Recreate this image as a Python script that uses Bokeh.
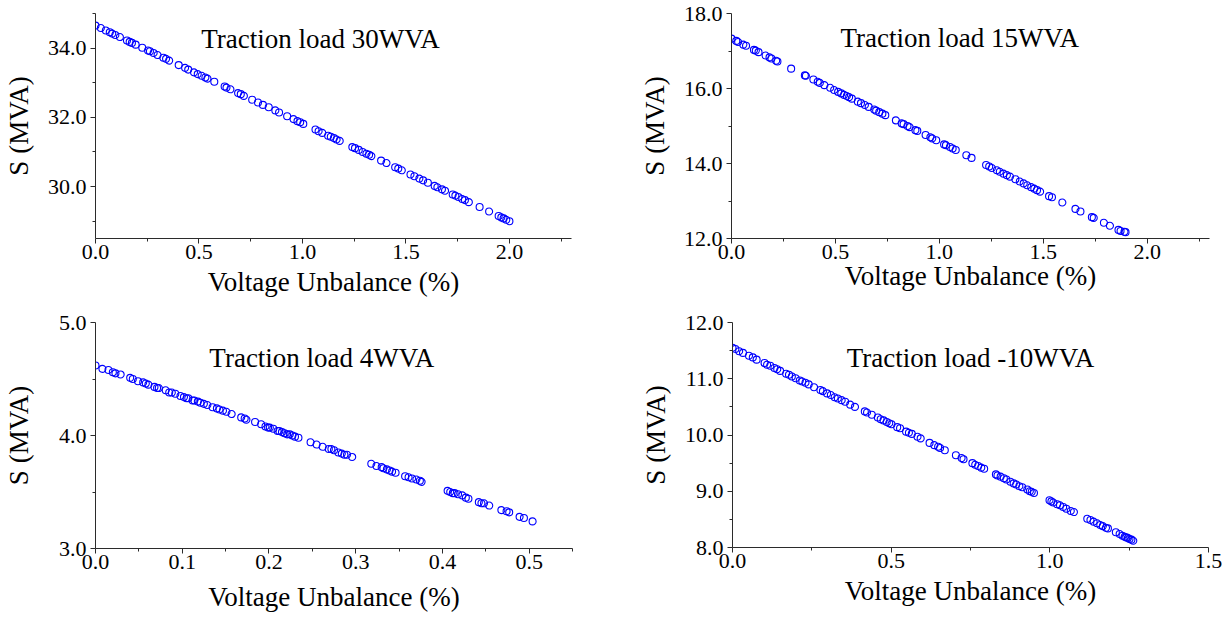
from bokeh.plotting import figure
from bokeh.layouts import column, row
from bokeh.models import Range1d, FixedTicker, PrintfTickFormatter, Label
from bokeh.embed import file_html
from bokeh.resources import INLINE

FONT = "Liberation Serif"

# ---------------- data ----------------
titles = ["Traction load 30WVA", "Traction load 15WVA", "Traction load 4WVA", "Traction load -10WVA"]
x_label = "Voltage Unbalance (%)"
y_label = "S (MVA)"

vu_30 = [0.000, 0.026, 0.050, 0.069, 0.081, 0.096, 0.118, 0.152, 0.165, 0.176, 0.194, 0.226, 0.254, 0.263,
         0.281, 0.300, 0.328, 0.341, 0.356, 0.402, 0.433, 0.448, 0.476, 0.494, 0.513, 0.531, 0.541, 0.574,
         0.624, 0.633, 0.652, 0.689, 0.702, 0.717, 0.757, 0.785, 0.809, 0.837, 0.869, 0.887, 0.926, 0.957,
         0.976, 0.989, 1.004, 1.063, 1.078, 1.096, 1.124, 1.137, 1.152, 1.165, 1.180, 1.241, 1.254, 1.272,
         1.291, 1.309, 1.322, 1.333, 1.380, 1.406, 1.448, 1.463, 1.480, 1.522, 1.541, 1.565, 1.583, 1.606,
         1.639, 1.652, 1.674, 1.689, 1.726, 1.739, 1.754, 1.772, 1.785, 1.804, 1.856, 1.902, 1.948, 1.961,
         1.972, 1.985, 2.000]
s_30 = [34.65, 34.58, 34.51, 34.46, 34.42, 34.38, 34.32, 34.22, 34.18, 34.15, 34.10, 34.01, 33.93, 33.91,
        33.86, 33.80, 33.72, 33.69, 33.64, 33.51, 33.43, 33.38, 33.30, 33.25, 33.20, 33.15, 33.12, 33.03,
        32.89, 32.86, 32.81, 32.70, 32.67, 32.62, 32.51, 32.43, 32.36, 32.29, 32.20, 32.14, 32.03, 31.95,
        31.89, 31.86, 31.81, 31.65, 31.60, 31.55, 31.47, 31.44, 31.40, 31.36, 31.32, 31.14, 31.11, 31.06,
        31.00, 30.95, 30.92, 30.88, 30.75, 30.68, 30.56, 30.52, 30.47, 30.35, 30.30, 30.23, 30.18, 30.11,
        30.02, 29.98, 29.92, 29.88, 29.77, 29.74, 29.70, 29.64, 29.61, 29.55, 29.41, 29.28, 29.15, 29.11,
        29.08, 29.04, 29.00]

vu_15 = [0.000, 0.023, 0.032, 0.057, 0.070, 0.108, 0.117, 0.130, 0.164, 0.183, 0.192, 0.215, 0.221, 0.287,
         0.353, 0.358, 0.394, 0.415, 0.425, 0.447, 0.475, 0.494, 0.513, 0.528, 0.542, 0.555, 0.566, 0.579,
         0.608, 0.623, 0.642, 0.660, 0.687, 0.696, 0.711, 0.726, 0.740, 0.791, 0.819, 0.828, 0.847, 0.857,
         0.885, 0.894, 0.934, 0.957, 0.966, 0.985, 1.023, 1.032, 1.051, 1.064, 1.079, 1.130, 1.155, 1.225,
         1.240, 1.253, 1.277, 1.291, 1.309, 1.325, 1.340, 1.366, 1.387, 1.406, 1.423, 1.442, 1.457, 1.470,
         1.485, 1.528, 1.542, 1.592, 1.655, 1.679, 1.734, 1.743, 1.792, 1.821, 1.862, 1.872, 1.891, 1.896]
s_15 = [17.33, 17.27, 17.24, 17.17, 17.14, 17.03, 17.01, 16.97, 16.88, 16.83, 16.80, 16.74, 16.72, 16.53,
        16.35, 16.34, 16.24, 16.18, 16.15, 16.09, 16.02, 15.96, 15.91, 15.87, 15.83, 15.80, 15.77, 15.73,
        15.65, 15.61, 15.56, 15.51, 15.44, 15.41, 15.37, 15.33, 15.29, 15.15, 15.07, 15.05, 15.00, 14.97,
        14.89, 14.87, 14.76, 14.70, 14.67, 14.62, 14.51, 14.49, 14.44, 14.40, 14.36, 14.22, 14.15, 13.96,
        13.92, 13.88, 13.82, 13.78, 13.73, 13.69, 13.65, 13.58, 13.52, 13.47, 13.42, 13.37, 13.33, 13.29,
        13.25, 13.13, 13.10, 12.96, 12.79, 12.72, 12.57, 12.55, 12.42, 12.34, 12.23, 12.20, 12.18, 12.17]

vu_4 = [0.000, 0.008, 0.015, 0.020, 0.023, 0.029, 0.040, 0.043, 0.049, 0.055, 0.058, 0.061, 0.068, 0.071,
        0.073, 0.081, 0.085, 0.088, 0.092, 0.098, 0.102, 0.105, 0.107, 0.112, 0.114, 0.118, 0.121, 0.125,
        0.129, 0.135, 0.140, 0.143, 0.147, 0.151, 0.157, 0.168, 0.172, 0.174, 0.184, 0.191, 0.196, 0.199,
        0.201, 0.205, 0.210, 0.212, 0.215, 0.218, 0.221, 0.224, 0.227, 0.230, 0.234, 0.248, 0.255, 0.262,
        0.269, 0.272, 0.275, 0.280, 0.284, 0.287, 0.290, 0.296, 0.318, 0.324, 0.330, 0.332, 0.336, 0.339,
        0.342, 0.346, 0.357, 0.361, 0.365, 0.370, 0.374, 0.376, 0.406, 0.409, 0.412, 0.414, 0.418, 0.423,
        0.427, 0.430, 0.442, 0.445, 0.448, 0.454, 0.468, 0.474, 0.477, 0.489, 0.494, 0.504]
s_4 = [4.62, 4.59, 4.58, 4.56, 4.55, 4.54, 4.51, 4.50, 4.48, 4.47, 4.46, 4.45, 4.43, 4.42,
       4.42, 4.40, 4.38, 4.38, 4.37, 4.35, 4.34, 4.33, 4.33, 4.31, 4.31, 4.30, 4.29, 4.28,
       4.27, 4.25, 4.24, 4.23, 4.22, 4.21, 4.19, 4.16, 4.15, 4.14, 4.12, 4.10, 4.08, 4.07,
       4.07, 4.06, 4.04, 4.04, 4.03, 4.02, 4.01, 4.01, 4.00, 3.99, 3.98, 3.94, 3.92, 3.90,
       3.88, 3.88, 3.87, 3.85, 3.84, 3.83, 3.83, 3.81, 3.75, 3.73, 3.72, 3.71, 3.70, 3.69,
       3.68, 3.67, 3.64, 3.63, 3.62, 3.61, 3.60, 3.59, 3.51, 3.50, 3.49, 3.49, 3.48, 3.47,
       3.45, 3.44, 3.41, 3.40, 3.40, 3.38, 3.34, 3.33, 3.32, 3.28, 3.27, 3.24]

vu_m10 = [0.000, 0.009, 0.021, 0.033, 0.052, 0.064, 0.076, 0.101, 0.109, 0.119, 0.132, 0.141, 0.150, 0.169,
          0.178, 0.187, 0.199, 0.212, 0.220, 0.230, 0.240, 0.257, 0.277, 0.285, 0.298, 0.310, 0.322, 0.332,
          0.344, 0.355, 0.371, 0.386, 0.417, 0.424, 0.439, 0.458, 0.467, 0.476, 0.486, 0.494, 0.501, 0.519,
          0.528, 0.547, 0.556, 0.565, 0.583, 0.593, 0.621, 0.636, 0.648, 0.654, 0.669, 0.704, 0.722, 0.728,
          0.756, 0.765, 0.774, 0.784, 0.793, 0.830, 0.835, 0.845, 0.855, 0.863, 0.876, 0.886, 0.894, 0.904,
          0.913, 0.929, 0.937, 0.943, 0.950, 0.999, 1.005, 1.011, 1.023, 1.032, 1.042, 1.052, 1.066, 1.076,
          1.118, 1.128, 1.138, 1.149, 1.159, 1.167, 1.177, 1.183, 1.208, 1.220, 1.229, 1.236, 1.241, 1.246,
          1.251, 1.257, 1.263]
s_m10 = [11.55, 11.53, 11.49, 11.46, 11.41, 11.38, 11.34, 11.28, 11.25, 11.23, 11.19, 11.17, 11.14, 11.09,
         11.07, 11.04, 11.01, 10.97, 10.95, 10.93, 10.90, 10.85, 10.80, 10.78, 10.74, 10.71, 10.67, 10.65,
         10.62, 10.59, 10.54, 10.50, 10.42, 10.40, 10.36, 10.31, 10.28, 10.26, 10.23, 10.21, 10.19, 10.14,
         10.12, 10.06, 10.04, 10.02, 9.97, 9.94, 9.86, 9.82, 9.79, 9.77, 9.73, 9.64, 9.59, 9.57,
         9.50, 9.47, 9.45, 9.42, 9.40, 9.30, 9.28, 9.26, 9.23, 9.21, 9.17, 9.14, 9.12, 9.09,
         9.07, 9.03, 9.00, 8.99, 8.97, 8.84, 8.82, 8.80, 8.77, 8.75, 8.72, 8.69, 8.65, 8.63,
         8.51, 8.49, 8.46, 8.43, 8.40, 8.38, 8.35, 8.34, 8.27, 8.24, 8.21, 8.19, 8.18, 8.17,
         8.15, 8.14, 8.12]

# ticks
xt_a = [0.0, 0.5, 1.0, 1.5, 2.0]
xm_a = [0.25, 0.75, 1.25, 1.75, 2.25]
yt_30 = [30.0, 32.0, 34.0]
ym_30 = [29.0, 31.0, 33.0, 35.0]
yt_15 = [12.0, 14.0, 16.0, 18.0]
ym_15 = [13.0, 15.0, 17.0]
xt_4 = [0.0, 0.1, 0.2, 0.3, 0.4, 0.5]
xm_4 = [0.05, 0.15, 0.25, 0.35, 0.45, 0.55]
yt_4 = [3.0, 4.0, 5.0]
ym_4 = [3.5, 4.5]
xt_m10 = [0.0, 0.5, 1.0, 1.5]
xm_m10 = [0.25, 0.75, 1.25]
yt_m10 = [8.0, 9.0, 10.0, 11.0, 12.0]
ym_m10 = [8.5, 9.5, 10.5, 11.5]

AXIS_COLOR = "#2b2b2b"


def panel(x, y, title, xr, yr, xt, xm, yt, ym, tpos, fw, fh, borders, xstand, ystand):
    left, right, top, bottom = borders
    p = figure(frame_width=fw, frame_height=fh,
               x_range=Range1d(*xr), y_range=Range1d(*yr),
               output_backend="svg", toolbar_location=None,
               min_border_left=left, min_border_right=right,
               min_border_top=top, min_border_bottom=bottom)
    p.xgrid.visible = False
    p.ygrid.visible = False
    p.outline_line_color = None
    p.background_fill_color = "white"
    p.border_fill_color = "white"

    p.xaxis.ticker = FixedTicker(ticks=xt, minor_ticks=xm)
    p.yaxis.ticker = FixedTicker(ticks=yt, minor_ticks=ym)
    for ax in (p.xaxis, p.yaxis):
        ax.formatter = PrintfTickFormatter(format="%.1f")
        ax.axis_line_color = AXIS_COLOR
        ax.axis_line_width = 1
        ax.major_tick_line_color = AXIS_COLOR
        ax.minor_tick_line_color = AXIS_COLOR
        ax.major_tick_in = 0
        ax.major_tick_out = 5
        ax.minor_tick_in = 0
        ax.minor_tick_out = 3
        ax.major_label_text_font = FONT
        ax.major_label_text_font_size = "22px"
        ax.major_label_text_color = "black"
        ax.axis_label_text_font = FONT
        ax.axis_label_text_font_size = "27px"
        ax.axis_label_text_font_style = "normal"
        ax.axis_label_text_color = "black"
    p.xaxis.axis_label = x_label
    p.yaxis.axis_label = y_label
    p.xaxis.major_label_standoff = 1
    p.yaxis.major_label_standoff = 4
    p.xaxis.axis_label_standoff = xstand
    p.yaxis.axis_label_standoff = ystand

    p.scatter(x, y, marker="circle", size=7, line_color="#0000FF",
              line_width=1.1, fill_alpha=0)

    p.add_layout(Label(x=tpos[0], y=tpos[1], text=title, text_align="center",
                       text_baseline="middle", text_font=FONT,
                       text_font_size="27px", text_color="black"))
    return p


p1 = panel(vu_30, s_30, titles[0], (0, 2.3), (28.5, 35.0), xt_a, xm_a, yt_30, ym_30,
           (1.087, 34.25), 476, 225, (95, 45, 12, 63), 5, 11)
p2 = panel(vu_15, s_15, titles[1], (0, 2.3), (12.0, 18.0), xt_a, xm_a, yt_15, ym_15,
           (1.098, 17.36), 478, 225, (115, 23, 13, 62), -1, 11)
p3 = panel(vu_4, s_4, titles[2], (0, 0.55), (3.0, 5.0), xt_4, xm_4, yt_4, ym_4,
           (0.261, 4.69), 477, 226, (94, 45, 21, 72), 10, 22)
p4 = panel(vu_m10, s_m10, titles[3], (0, 1.5), (8.0, 12.0), xt_m10, xm_m10, yt_m10, ym_m10,
           (0.75, 11.37), 476, 225, (115, 25, 22, 72), 5, 11)

layout = column(row(p1, p2), row(p3, p4))

open("out.html", "w").write(file_html(layout, INLINE))
